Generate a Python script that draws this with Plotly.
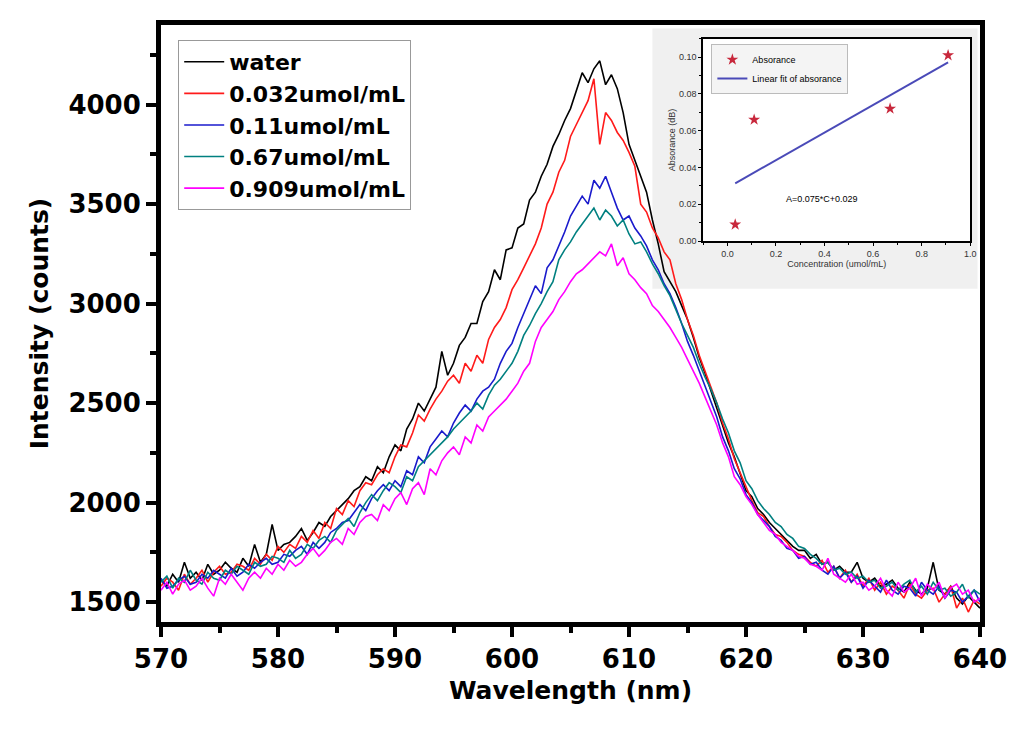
import plotly.graph_objects as go

# wavelength grid (nm), 0.5 nm steps
wavelength = [
    570.0, 570.5, 571.0, 571.5, 572.0, 572.5, 573.0, 573.5, 574.0, 574.5,
    575.0, 575.5, 576.0, 576.5, 577.0, 577.5, 578.0, 578.5, 579.0, 579.5,
    580.0, 580.5, 581.0, 581.5, 582.0, 582.5, 583.0, 583.5, 584.0, 584.5,
    585.0, 585.5, 586.0, 586.5, 587.0, 587.5, 588.0, 588.5, 589.0, 589.5,
    590.0, 590.5, 591.0, 591.5, 592.0, 592.5, 593.0, 593.5, 594.0, 594.5,
    595.0, 595.5, 596.0, 596.5, 597.0, 597.5, 598.0, 598.5, 599.0, 599.5,
    600.0, 600.5, 601.0, 601.5, 602.0, 602.5, 603.0, 603.5, 604.0, 604.5,
    605.0, 605.5, 606.0, 606.5, 607.0, 607.5, 608.0, 608.5, 609.0, 609.5,
    610.0, 610.5, 611.0, 611.5, 612.0, 612.5, 613.0, 613.5, 614.0, 614.5,
    615.0, 615.5, 616.0, 616.5, 617.0, 617.5, 618.0, 618.5, 619.0, 619.5,
    620.0, 620.5, 621.0, 621.5, 622.0, 622.5, 623.0, 623.5, 624.0, 624.5,
    625.0, 625.5, 626.0, 626.5, 627.0, 627.5, 628.0, 628.5, 629.0, 629.5,
    630.0, 630.5, 631.0, 631.5, 632.0, 632.5, 633.0, 633.5, 634.0, 634.5,
    635.0, 635.5, 636.0, 636.5, 637.0, 637.5, 638.0, 638.5, 639.0, 639.5,
    640.0,
]

water = [
    1610, 1580, 1640, 1600, 1700, 1620, 1650, 1610, 1690, 1640,
    1660, 1700, 1670, 1650, 1720, 1680, 1790, 1700, 1740, 1890,
    1760, 1790, 1800, 1830, 1870, 1810, 1850, 1900, 1880, 1930,
    1960, 1990, 2020, 2060, 2080, 2130, 2110, 2180, 2150, 2230,
    2290, 2260, 2370, 2420, 2500, 2460, 2520, 2580, 2760, 2640,
    2700, 2790, 2830, 2900, 2900, 3010, 3060, 3170, 3120, 3270,
    3280, 3380, 3400, 3520, 3560, 3640, 3700, 3790, 3850, 3920,
    3980, 4070, 4160, 4110, 4180, 4220, 4100, 4150, 4080, 3960,
    3800, 3720, 3640, 3560, 3420, 3300, 3160, 3110, 3060, 2990,
    2920, 2830, 2730, 2650, 2560, 2480, 2380, 2300, 2230, 2140,
    2060, 2030, 1970, 1940, 1900, 1870, 1840, 1810, 1780, 1760,
    1760, 1720, 1740, 1690, 1700, 1660, 1680, 1650, 1650, 1700,
    1620, 1600, 1620, 1580, 1590, 1610, 1570, 1550, 1600, 1560,
    1540, 1570, 1700, 1560, 1540, 1580, 1520, 1490, 1530, 1500,
    1470,
]

c_0032 = [
    1580, 1620, 1600, 1560, 1640, 1590, 1620, 1660, 1600, 1650,
    1680, 1640, 1650, 1690, 1680, 1660, 1720, 1690, 1740, 1710,
    1780, 1750, 1790, 1770, 1830, 1800, 1860, 1820, 1900, 1870,
    1970, 1940, 2010, 1980, 2060, 2100, 2090, 2140, 2170, 2150,
    2230, 2290, 2280, 2350, 2440, 2410, 2470, 2520, 2560, 2610,
    2640, 2600, 2700, 2660, 2740, 2700, 2820, 2880, 2920, 2980,
    3070, 3120, 3180, 3240, 3300, 3380, 3500, 3560, 3660, 3720,
    3840, 3900, 3960, 4020, 4130, 3800, 3960, 3920, 3860, 3820,
    3760, 3690, 3500, 3460, 3380, 3330, 3260, 3220, 3100, 3020,
    2920, 2840, 2740, 2660, 2580, 2500, 2400, 2320, 2220, 2150,
    2080, 2010, 1950, 1930, 1880, 1840, 1830, 1800, 1760, 1740,
    1730, 1700, 1680, 1710, 1650, 1680, 1620, 1660, 1600, 1640,
    1580, 1620, 1560, 1600, 1540, 1580, 1560, 1520, 1590, 1540,
    1520, 1560, 1570, 1500, 1540, 1580, 1470, 1520, 1450, 1510,
    1490,
]

c_011 = [
    1620, 1570, 1580, 1610, 1630, 1590, 1600, 1640, 1620, 1660,
    1640, 1620, 1670, 1630, 1650, 1690, 1670, 1700, 1720, 1690,
    1700, 1740, 1730, 1760, 1780, 1740, 1800, 1770, 1800, 1850,
    1870, 1900, 1910, 1950, 1990, 1960, 2020, 2060, 2090, 2060,
    2110, 2080, 2160, 2140, 2230, 2200, 2280, 2320, 2360, 2330,
    2400, 2450, 2490, 2460, 2520, 2560, 2580, 2620, 2700, 2760,
    2800, 2880, 2950, 3020, 3090, 3050, 3180, 3220, 3290, 3360,
    3440, 3490, 3540, 3500, 3620, 3580, 3640, 3560, 3480, 3420,
    3440, 3380, 3340, 3290, 3220, 3170, 3100, 3050, 2980, 2900,
    2810, 2740, 2660, 2590, 2510, 2430, 2330, 2260, 2170, 2120,
    2040, 2000, 1940, 1910, 1880, 1830, 1810, 1770, 1760, 1720,
    1730, 1690, 1700, 1660, 1640, 1680, 1620, 1650, 1600, 1630,
    1570, 1610, 1580, 1550, 1610, 1560, 1540, 1580, 1570, 1530,
    1600, 1560, 1540, 1580, 1520, 1560, 1550, 1500, 1530, 1560,
    1500,
]

c_067 = [
    1600, 1630, 1570, 1620, 1600, 1660, 1610, 1590, 1650, 1620,
    1610, 1660, 1640, 1680, 1660, 1640, 1700, 1680, 1690, 1730,
    1720, 1700, 1760, 1720, 1740, 1790, 1770, 1810, 1830, 1800,
    1860, 1890, 1920, 1880, 1950, 2000, 2040, 2010, 2060, 2100,
    2080, 2050, 2130, 2110, 2180, 2210, 2240, 2270, 2300, 2330,
    2370, 2400, 2430, 2460, 2500, 2470, 2540, 2590, 2620, 2660,
    2700, 2760, 2840, 2890, 2950, 3000, 3060, 3110, 3220, 3270,
    3310, 3360, 3400, 3440, 3480, 3420, 3470, 3440, 3390, 3420,
    3350, 3300, 3310, 3260, 3200, 3150, 3090, 3040, 2970, 2900,
    2840, 2780, 2700, 2630, 2570, 2500, 2420, 2350, 2260, 2200,
    2110, 2070, 2010, 1970, 1940, 1900, 1880, 1840, 1820, 1780,
    1770, 1740, 1720, 1690, 1700, 1660, 1670, 1640, 1650, 1620,
    1630, 1600, 1610, 1570, 1580, 1600, 1560, 1590, 1610, 1550,
    1580, 1540, 1600, 1560, 1570, 1530, 1550, 1590, 1520, 1560,
    1540,
]

c_0909 = [
    1560, 1600, 1540, 1590, 1610, 1560, 1580, 1620, 1570, 1530,
    1620, 1590, 1640, 1600, 1560, 1620, 1650, 1620, 1670, 1640,
    1690, 1660, 1710, 1680, 1700, 1740, 1770, 1730, 1760, 1800,
    1820, 1790, 1870, 1840, 1900, 1930, 1940, 1910, 1990, 1960,
    2020, 2050, 1990, 2070, 2100, 2040, 2170, 2140, 2210, 2250,
    2280, 2240, 2330, 2300, 2390, 2360, 2430, 2460, 2490, 2520,
    2560, 2600, 2660, 2700, 2810, 2880, 2920, 2960, 3020, 3060,
    3110, 3150, 3170, 3200, 3230, 3260, 3240, 3300, 3190, 3230,
    3150, 3120, 3080, 3050, 2990, 2960, 2920, 2880, 2830, 2780,
    2720, 2660, 2600, 2530, 2460, 2390, 2300, 2230, 2130, 2090,
    2030, 1990, 1940, 1900, 1860, 1840, 1800, 1780, 1760, 1730,
    1720, 1690, 1680, 1660, 1720, 1640, 1620, 1600, 1640, 1590,
    1600, 1560, 1580, 1620, 1560, 1530, 1600, 1550, 1570, 1620,
    1530, 1590, 1560, 1600, 1520, 1570, 1590, 1540, 1560, 1500,
    1520,
]

series_names = ["water", "0.032umol/mL", "0.11umol/mL", "0.67umol/mL", "0.909umol/mL"]
series_colors = ["#000000", "#ff1a1a", "#1a1acc", "#008080", "#ff00ff"]

# inset: absorbance vs concentration
concentration = [0.032, 0.11, 0.67, 0.909]
absorbance = [0.009, 0.066, 0.072, 0.101]
fit_conc = [0.032, 0.909]
fit_abs = [0.0314, 0.0972]

fig = go.Figure()

for name, ys, color in zip(series_names, [water, c_0032, c_011, c_067, c_0909], series_colors):
    fig.add_trace(go.Scatter(x=wavelength, y=ys, name=name, mode="lines",
                             line=dict(color=color, width=1.6)))

fig.add_trace(go.Scatter(x=concentration, y=absorbance, name="Absorance", mode="markers",
                         marker=dict(symbol="star", size=9, color="#c8283c"),
                         xaxis="x2", yaxis="y2", legend="legend2"))
fig.add_trace(go.Scatter(x=fit_conc, y=fit_abs, name="Linear fit of absorance", mode="lines",
                         line=dict(color="#4a4ab8", width=2),
                         xaxis="x2", yaxis="y2", legend="legend2"))

bold = dict(family="DejaVu Sans", size=26, color="black", weight="bold")
small = dict(family="Liberation Sans", size=9, color="#333333")

# page body adds 8px offset, so margins are trimmed on left/top
fig.update_layout(
    width=1024, height=730,
    margin=dict(l=153, r=52, t=17, b=116),
    paper_bgcolor="white", plot_bgcolor="white",
    xaxis=dict(range=[570, 640], dtick=10, ticks="outside", ticklen=10, tickwidth=4,
               tickcolor="black", showline=True, linewidth=5, linecolor="black",
               mirror=True, showgrid=False, zeroline=False, tickfont=bold, automargin=False,
               minor=dict(dtick=5, ticks="outside", ticklen=6, tickwidth=4, tickcolor="black"),
               title=dict(text="Wavelength (nm)", font=dict(bold, size=25), standoff=10)),
    yaxis=dict(range=[1400, 4400], dtick=500, tick0=1500, ticks="outside", ticklen=10,
               tickwidth=4, tickcolor="black", showline=True, linewidth=5, linecolor="black",
               mirror=True, showgrid=False, zeroline=False, tickfont=bold, automargin=False,
               minor=dict(dtick=250, ticks="outside", ticklen=6, tickwidth=4, tickcolor="black"),
               title=dict(text="Intensity (counts)", font=dict(bold, size=25), standoff=14)),
    xaxis2=dict(domain=[0.662, 0.988], anchor="y2", range=[-0.1, 1.0], dtick=0.2,
                tickformat=".1f", ticks="outside", ticklen=3, tickwidth=1, tickcolor="black",
                showline=True, linewidth=1.5, linecolor="black", mirror=True, showgrid=False,
                zeroline=False, tickfont=small, automargin=False,
                minor=dict(dtick=0.1, ticks="outside", ticklen=2, tickcolor="black"),
                title=dict(text="Concentration (umol/mL)", font=small, standoff=2)),
    yaxis2=dict(domain=[0.638, 0.977], anchor="x2", range=[0, 0.11], dtick=0.02,
                tickformat=".2f", ticks="outside", ticklen=3, tickwidth=1, tickcolor="black",
                showline=True, linewidth=1.5, linecolor="black", mirror=True, showgrid=False,
                zeroline=False, tickfont=small, automargin=False,
                minor=dict(dtick=0.01, ticks="outside", ticklen=2, tickcolor="black"),
                title=dict(text="Absorance (dB)", font=small, standoff=2)),
    legend=dict(x=0.021, y=0.975, xanchor="left", yanchor="top",
                font=dict(family="DejaVu Sans", size=22, color="black", weight="bold"),
                bgcolor="white", bordercolor="#999999", borderwidth=1,
                tracegroupgap=0, itemwidth=40),
    legend2=dict(x=0.672, y=0.968, xanchor="left", yanchor="top",
                 font=dict(family="Liberation Sans", size=9, color="black"),
                 bgcolor="#f4f4f4", bordercolor="#bbbbbb", borderwidth=1, itemwidth=30),
    shapes=[dict(type="rect", xref="paper", yref="paper", x0=0.600, x1=0.997,
                 y0=0.558, y1=0.994, fillcolor="#f0f0f0", line=dict(width=0), layer="below")],
    annotations=[dict(text="A=0.075*C+0.029", x=0.39, y=0.023, xref="x2", yref="y2",
                      showarrow=False, font=dict(family="Liberation Sans", size=9, color="black"))],
)

fig.write_html("out.html")
